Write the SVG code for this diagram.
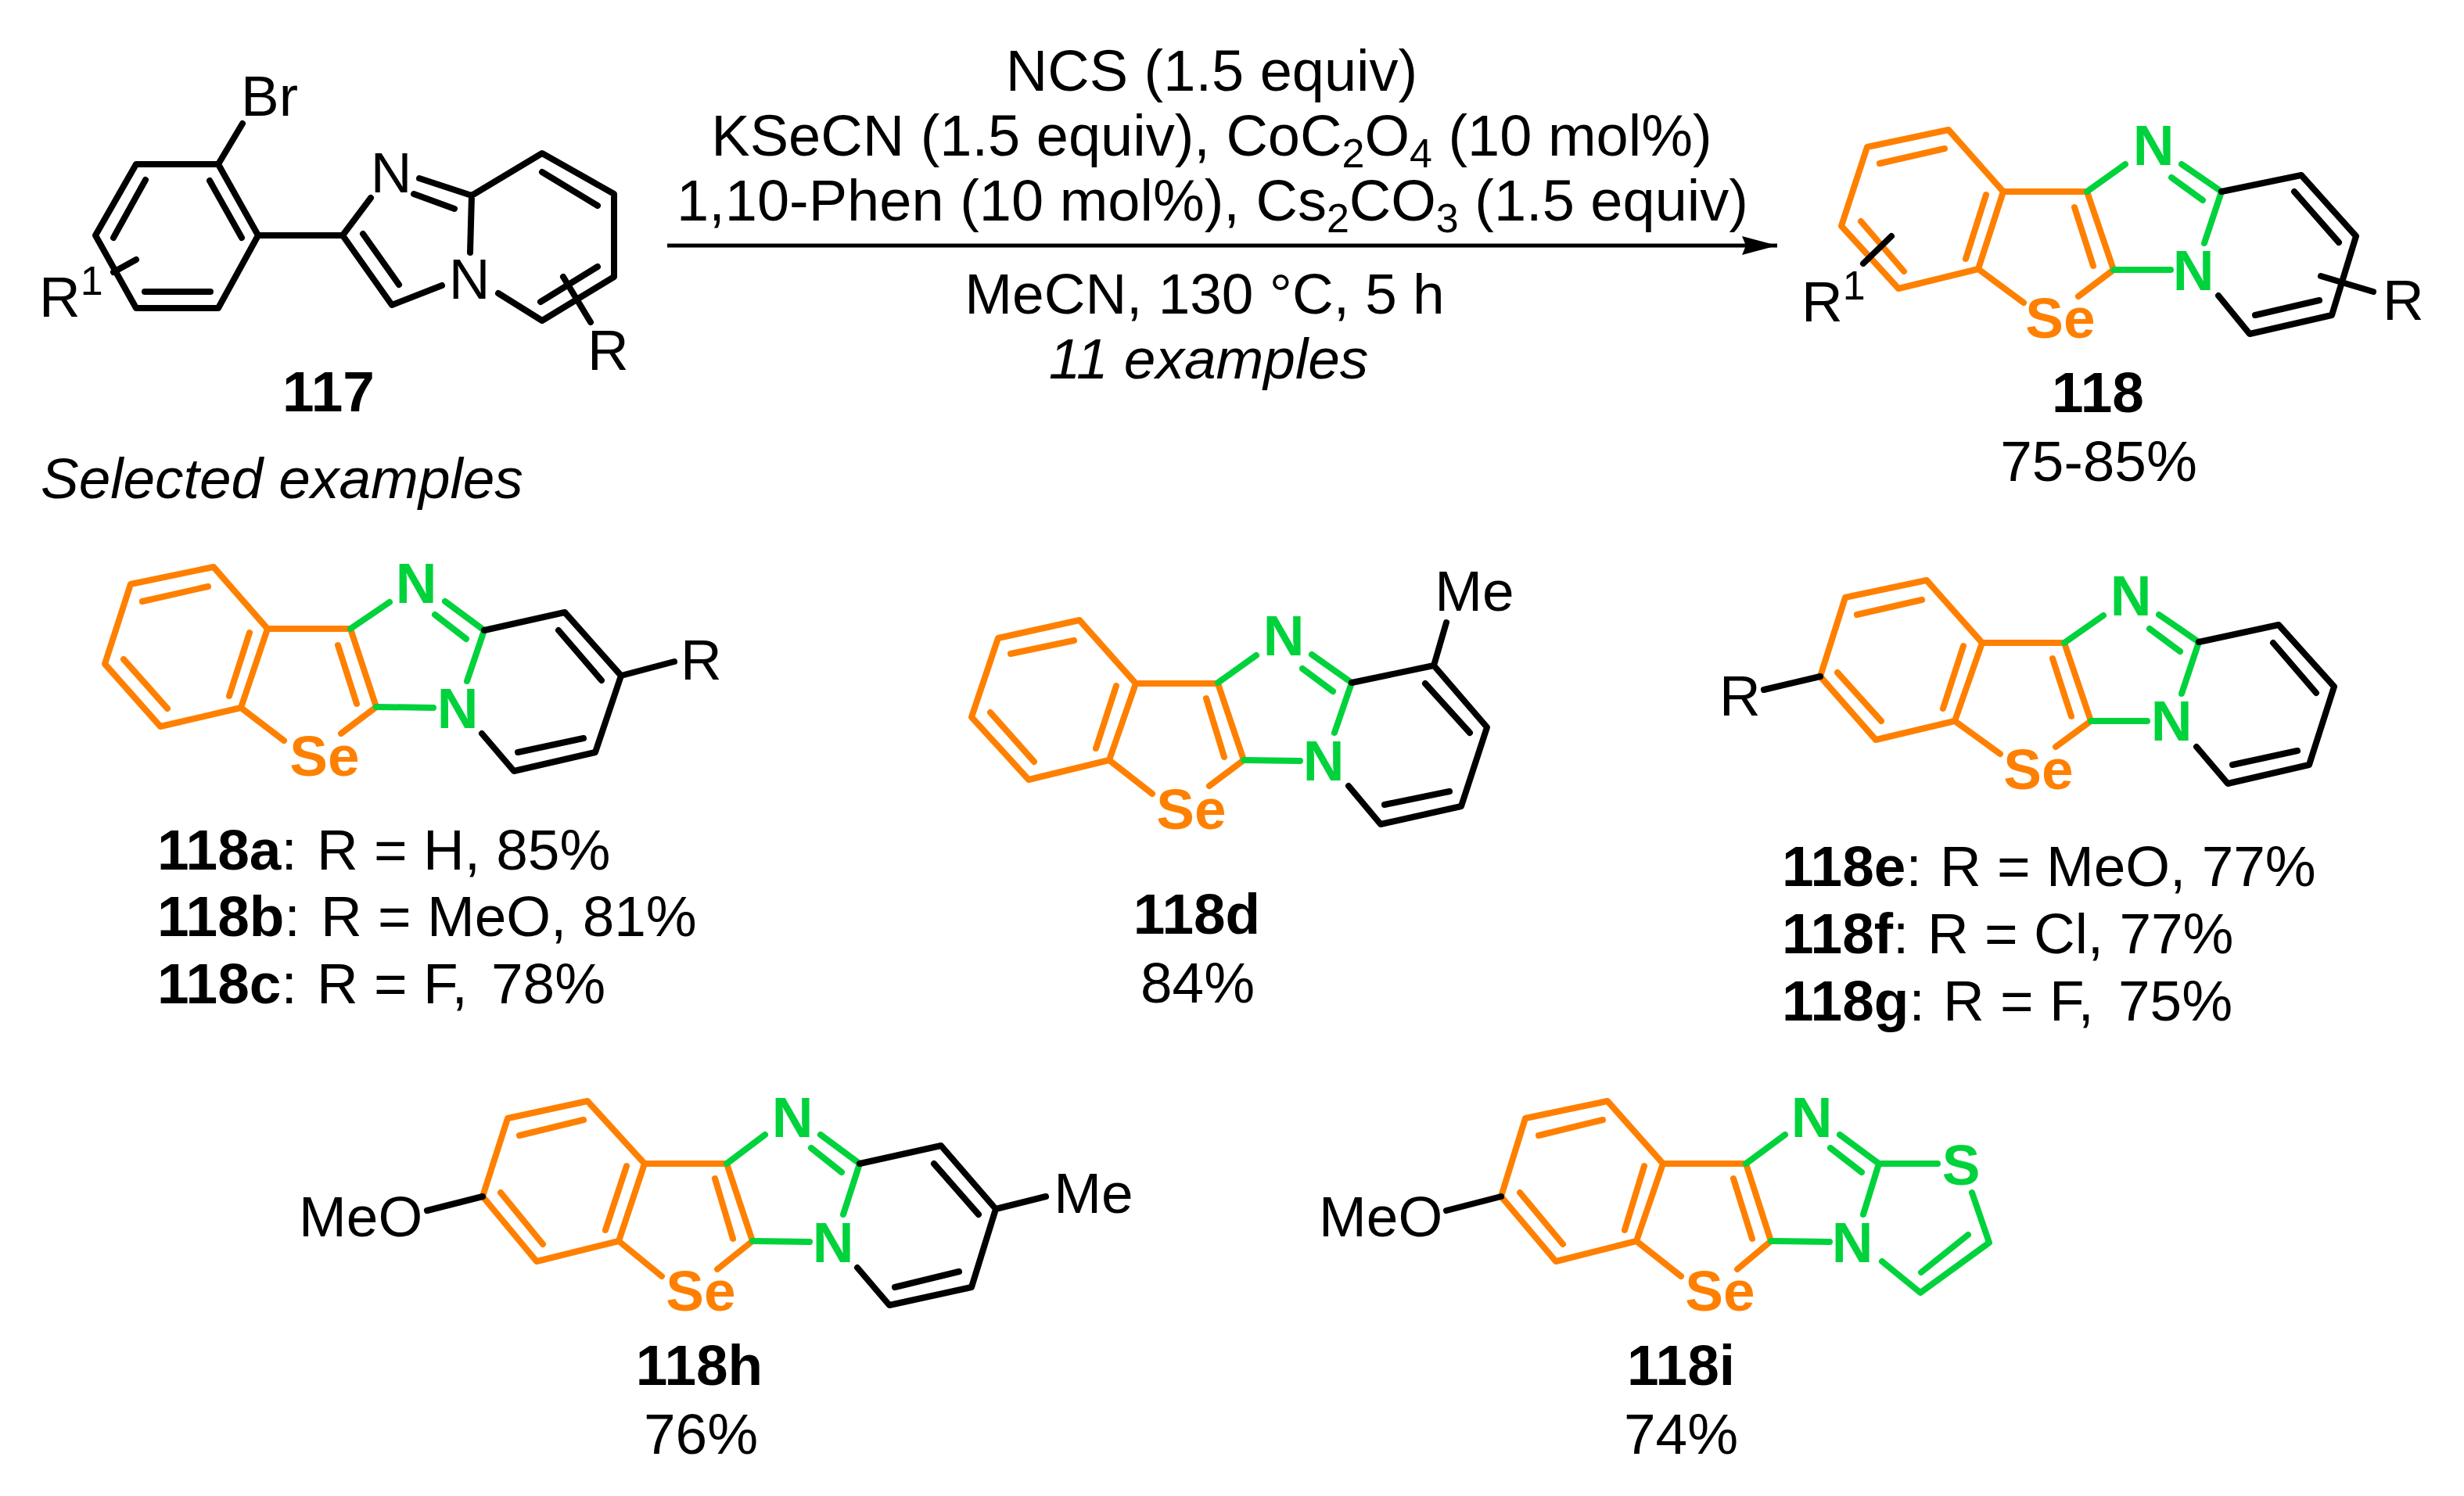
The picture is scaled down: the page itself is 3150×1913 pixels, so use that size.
<svg xmlns="http://www.w3.org/2000/svg" width="3150" height="1913" viewBox="0 0 3150 1913">
<style>
text{font-family:"Liberation Sans",Arial,sans-serif;font-size:73px;fill:#000}
.c{text-anchor:middle}
.b{font-weight:bold}
.i{font-style:italic}
.sb{font-size:52px}
.rg{font-size:74px}
.og{fill:#FF8000;font-weight:bold;text-anchor:middle}
.gr{fill:#00D23C;font-weight:bold;text-anchor:middle}
path{fill:none;stroke-width:8;stroke-linecap:round;stroke-linejoin:round}
.k{stroke:#000}.o{stroke:#FF8000}.g{stroke:#00D23C}
</style>
<defs><marker id="ah" markerUnits="userSpaceOnUse" markerWidth="46" markerHeight="26" refX="45" refY="13" orient="auto"><polygon points="0,1 45,13 0,25 5,13" fill="#000"/></marker></defs>
<rect width="3150" height="1913" fill="#fff"/>
<g id="connectors"><line x1="853" y1="314" x2="2272" y2="314" stroke="#000" stroke-width="5" marker-end="url(#ah)"/></g>
<g id="conditions">
<text class="c rg" x="1549" y="116">NCS (1.5 equiv)</text>
<text class="c rg" x="1549" y="199">KSeCN (1.5 equiv), CoC<tspan class="sb" dy="15">2</tspan><tspan dy="-15">O</tspan><tspan class="sb" dy="15">4</tspan><tspan dy="-15"> (10 mol%)</tspan></text>
<text class="c rg" x="1550" y="282">1,10-Phen (10 mol%), Cs<tspan class="sb" dy="15">2</tspan><tspan dy="-15">CO</tspan><tspan class="sb" dy="15">3</tspan><tspan dy="-15"> (1.5 equiv)</tspan></text>
<text class="c" x="1540" y="401">MeCN, 130 °C, 5 h</text>
<text class="c i" x="1545" y="484">11 examples</text>
</g>
<g id="m117">
<path class="k" d="M174 210H279L330 301L279 394H174L122 301ZM186 230L145 304M268 231L309 304M185 373H269M279 210L310 158M330 301H438L474 253M438 301L501 390L565 365M464 299L510 364M536 228L603 250M529 248L581 267M603 250L601 323M603 250L693 196L785 248V354L693 410L637 375M693 220L764 263M764 341L691 386M720 354L755 412M145 348L174 332"/>
<text x="308" y="148">Br</text><text class="c" x="500" y="246">N</text><text class="c" x="600" y="382">N</text>
<text x="751" y="473">R</text><text x="50" y="405">R<tspan class="sb" dy="-28">1</tspan></text>
<text class="c b" x="420" y="526">117</text>
</g>
<text class="i" x="52" y="637">Selected examples</text>
<g id="m118">
<path class="o" d="M2491 166L2387 188L2354 289L2427 369L2529 344L2561 245ZM2486 190L2403 209M2379 283L2434 347M2539 249L2513 331M2561 245H2668L2702 345L2657 379M2652 265L2676 340M2529 344L2587 387"/>
<path class="g" d="M2668 245L2717 210M2789 210L2840 245M2776 227L2816 256M2840 245L2818 311M2702 345H2775"/>
<path class="k" d="M2840 245L2942 224L3012 302L2981 403L2876 427L2836 378M2933 245L2990 310M2965 384L2883 403M2967 353L3034 373M2418 302L2382 337"/>
<text class="og" x="2634" y="432">Se</text><text class="gr" x="2753" y="211">N</text><text class="gr" x="2804" y="371">N</text>
<text x="3046" y="409">R</text><text x="2303" y="411">R<tspan class="sb" dy="-28">1</tspan></text>
<text class="c b" x="2682" y="527">118</text><text class="c" x="2683" y="615">75-85%</text>
</g>
<g id="m118a">
<path class="o" d="M273 725L167 747L134 849L205 929L308 905L342 804ZM266 750L182 769M158 843L214 906M319 809L293 890M342 804H448L481 904L436 938M432 825L456 900M308 905L363 947"/>
<path class="g" d="M448 804L498 770M569 769L619 806M556 786L596 817M619 806L597 871M481 904L554 905"/>
<path class="k" d="M619 806L722 783L794 864L761 962L657 986L616 938M714 806L769 870M746 944L662 962M794 864L862 846"/>
<text class="og" x="415" y="992">Se</text><text class="gr" x="532" y="771">N</text><text class="gr" x="585" y="931">N</text><text x="870" y="869">R</text>
<text x="201" y="1112"><tspan class="b">118a</tspan>:<tspan x="405">R = H, 85%</tspan></text>
<text x="201" y="1197"><tspan class="b">118b</tspan>:<tspan x="410">R = MeO, 81%</tspan></text>
<text x="201" y="1283"><tspan class="b">118c</tspan>:<tspan x="405">R = F,</tspan><tspan x="628">78%</tspan></text>
</g>
<g id="m118d">
<path class="o" d="M1380 793L1276 816L1242 917L1315 997L1418 972L1452 874ZM1373 819L1292 836M1266 911L1322 974M1427 877L1401 957M1452 874H1557L1590 972L1546 1005M1542 893L1565 968M1418 972L1473 1015"/>
<path class="g" d="M1557 873L1606 838M1677 837L1728 873M1665 855L1704 884M1728 873L1706 937M1590 972L1662 973"/>
<path class="k" d="M1728 873L1833 851L1901 930L1868 1031L1765 1054L1724 1005M1822 874L1879 937M1853 1012L1770 1029M1833 851L1849 796"/>
<text class="og" x="1523" y="1060">Se</text><text class="gr" x="1641" y="838">N</text><text class="gr" x="1692" y="998">N</text>
<text class="c" x="1885" y="781">Me</text>
<text class="c b" x="1530" y="1194">118d</text><text class="c" x="1531" y="1282">84%</text>
</g>
<g id="m118e">
<path class="o" d="M2463 742L2359 764L2327 865L2398 946L2499 922L2534 822ZM2457 767L2374 786M2349 860L2405 922M2510 826L2484 906M2534 822H2639L2673 922L2628 955M2624 842L2648 916M2499 922L2557 964"/>
<path class="g" d="M2639 822L2689 787M2760 786L2811 821M2748 804L2787 833M2811 821L2789 887M2673 922L2745 922"/>
<path class="k" d="M2811 821L2913 799L2984 878L2952 978L2848 1002L2808 955M2906 822L2961 886M2937 960L2854 978M2327 865L2255 882"/>
<text class="og" x="2606" y="1009">Se</text><text class="gr" x="2724" y="787">N</text><text class="gr" x="2776" y="947">N</text><text x="2198" y="915">R</text>
<text x="2278" y="1133"><tspan class="b">118e</tspan>:<tspan x="2480">R = MeO, 77%</tspan></text>
<text x="2278" y="1219"><tspan class="b">118f</tspan>:<tspan x="2464">R = Cl, 77%</tspan></text>
<text x="2278" y="1305"><tspan class="b">118g</tspan>:<tspan x="2484">R = F,</tspan><tspan x="2708">75%</tspan></text>
</g>
<g id="m118h">
<path class="o" d="M751 1408L649 1430L617 1530L686 1613L791 1587L824 1488ZM746 1432L664 1452M640 1525L694 1591M801 1491L774 1573M824 1488H929L962 1587L917 1623M914 1507L937 1584M791 1587L846 1632"/>
<path class="g" d="M929 1488L978 1451M1049 1451L1099 1488M1037 1468L1076 1499M1099 1488L1078 1553M962 1587L1035 1588"/>
<path class="k" d="M1099 1488L1203 1465L1273 1546L1242 1646L1137 1669L1096 1621M1194 1488L1251 1553M1226 1626L1144 1646M1273 1546L1337 1530M617 1530L546 1548"/>
<text class="og" x="896" y="1676">Se</text><text class="gr" x="1013" y="1454">N</text><text class="gr" x="1065" y="1614">N</text>
<text class="c" x="1398" y="1551">Me</text><text x="382" y="1581">MeO</text>
<text class="c b" x="894" y="1771">118h</text><text class="c" x="896" y="1859">76%</text>
</g>
<g id="m118i">
<path class="o" d="M2055 1408L1950 1430L1919 1530L1989 1613L2092 1587L2126 1488ZM2049 1432L1967 1452M1943 1525L1998 1591M2102 1491L2077 1573M2126 1488H2232L2264 1587L2221 1623M2216 1507L2240 1584M2092 1587L2149 1632"/>
<path class="g" d="M2232 1488L2282 1451M2352 1451L2402 1488M2340 1468L2380 1499M2402 1488L2382 1553M2264 1587L2339 1588M2402 1488H2477M2521 1525L2543 1589L2455 1653L2406 1613M2516 1579L2456 1627"/>
<path class="k" d="M1919 1530L1849 1548"/>
<text class="og" x="2199" y="1676">Se</text><text class="gr" x="2316" y="1454">N</text><text class="gr" x="2368" y="1614">N</text><text class="gr" x="2507" y="1515">S</text>
<text x="1686" y="1581">MeO</text>
<text class="c b" x="2149" y="1771">118i</text><text class="c" x="2149" y="1859">74%</text>
</g>
</svg>
